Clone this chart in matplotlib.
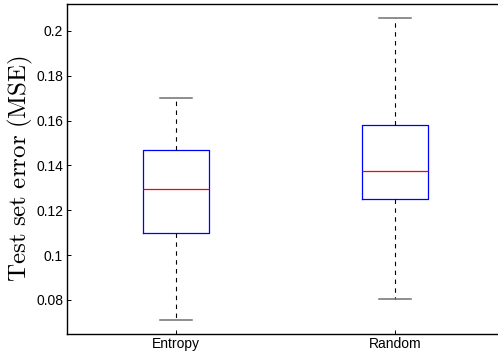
import matplotlib
matplotlib.use("Agg")
import matplotlib.pyplot as plt

# Summary statistics of the test set error for each selection strategy
methods = ["Entropy", "Random"]
medians = [0.1295, 0.1375]
q1 = [0.1099, 0.1248]
q3 = [0.1469, 0.158]
whisk_lo = [0.0711, 0.0804]
whisk_hi = [0.170, 0.2058]
yticks = [0.08, 0.1, 0.12, 0.14, 0.16, 0.18, 0.2]

plt.rcParams["mathtext.fontset"] = "cm"

fig = plt.figure(figsize=(4.98, 3.57), dpi=100)
ax = fig.add_axes([66.5 / 498, 23 / 357, 438 / 498, 330 / 357])

stats = [
    dict(label=m, med=md, q1=a, q3=b, whislo=lo, whishi=hi, fliers=[])
    for m, md, a, b, lo, hi in zip(methods, medians, q1, q3, whisk_lo, whisk_hi)
]
ax.bxp(
    stats,
    positions=[1, 2],
    widths=0.3,
    showfliers=False,
    boxprops=dict(color="#0000ff", linewidth=0.9),
    medianprops=dict(color="#ff0000", linewidth=0.9),
    whiskerprops=dict(color="black", linewidth=0.8, linestyle=(0, (4, 4))),
    capprops=dict(color="#707070", linewidth=1.1),
    capwidths=0.15,
)

ax.set_xlim(0.5, 2.5)
ax.set_ylim(0.0648, 0.212)
ax.set_yticks(yticks)
ax.set_yticklabels([f"{v:g}" for v in yticks])
ax.set_xticks([1, 2])
ax.set_xticklabels(methods)

for lab in ax.get_xticklabels() + ax.get_yticklabels():
    lab.set_fontfamily("Liberation Sans")
    lab.set_fontsize(10)

ax.tick_params(direction="in", length=3, width=0.7, color="black",
               top=False, right=False, pad=2.5)
for s in ax.spines.values():
    s.set_linewidth(1.0)

ax.set_ylabel(r"$\mathrm{Test\ set\ error\ (MSE)}$", fontsize=18, labelpad=0.5)

fig.savefig("out.png", dpi=100)
